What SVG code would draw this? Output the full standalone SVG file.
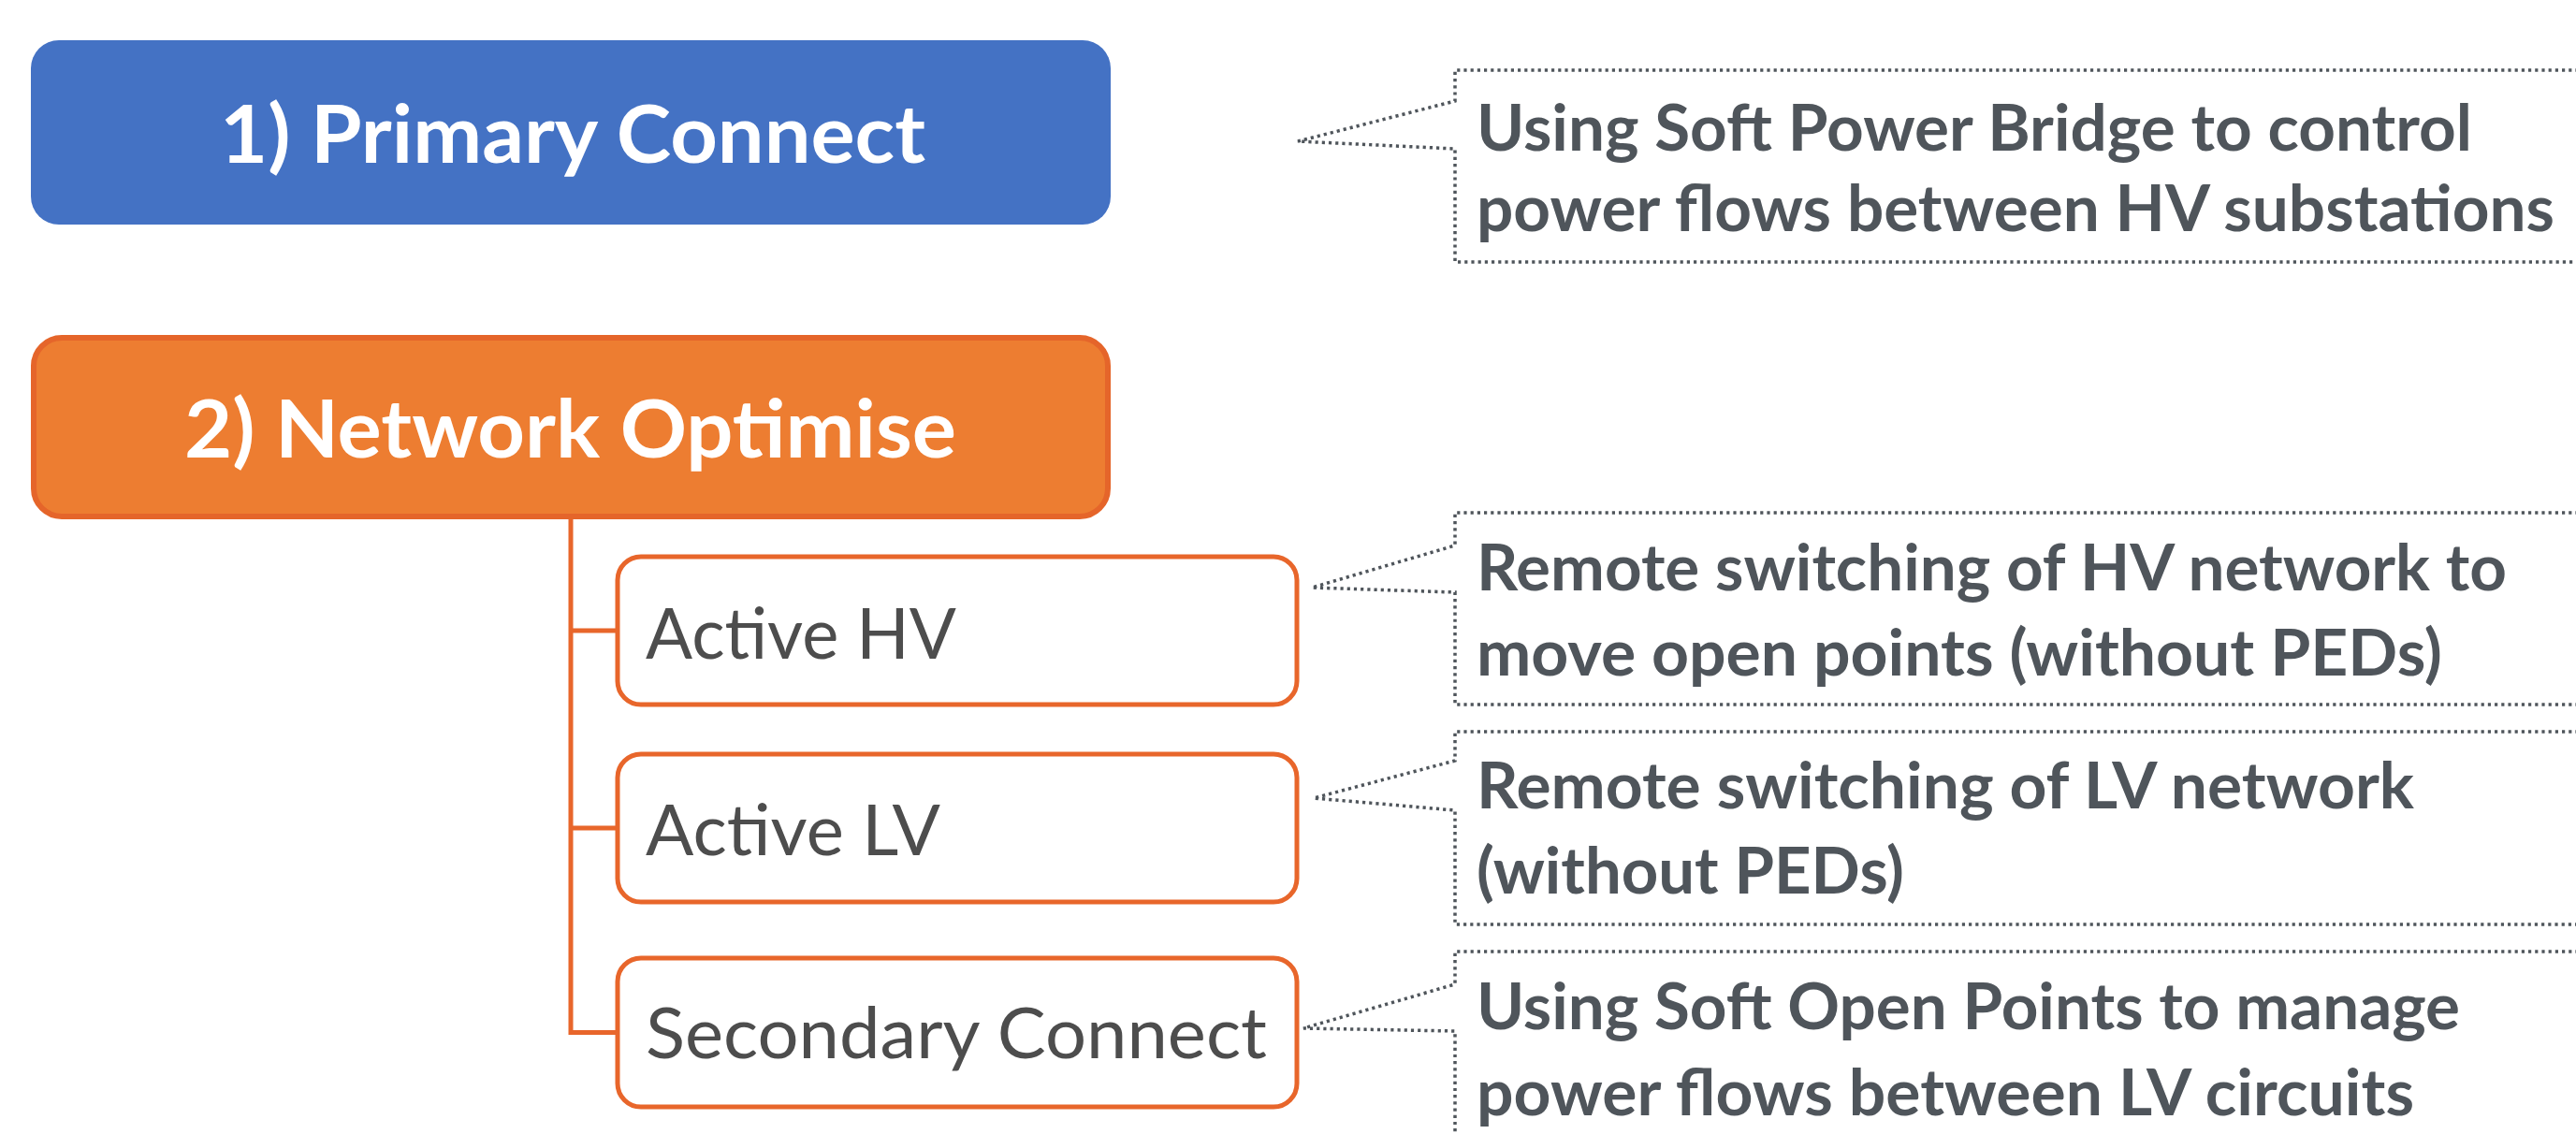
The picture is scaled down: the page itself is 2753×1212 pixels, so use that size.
<svg xmlns="http://www.w3.org/2000/svg" width="2753" height="1212" viewBox="0 0 2753 1212">
  <style>
    .title { font-family: Lato, "Open Sans", "Liberation Sans", sans-serif; font-weight: 700; font-size: 86px; fill: #FFFFFF; }
    .child { font-family: Lato, "Open Sans", "Liberation Sans", sans-serif; font-weight: 400; font-size: 75px; fill: #4D4D4D; }
    .note { font-family: Lato, "Open Sans", "Liberation Sans", sans-serif; font-weight: 700; font-size: 69px; fill: #4F555B; }
    .childbox { fill: #FFFFFF; stroke: #E8662B; stroke-width: 5; }
    .callout { fill: none; stroke: #4F555B; stroke-width: 3.5; stroke-dasharray: 3.2 4; }
    .conn { fill: none; stroke: #E8662B; stroke-width: 5; stroke-linejoin: miter; }
  </style>

  <g id="connectors">
    <path class="conn" d="M610,555 V1103.5 H660 M610,674 H660 M610,885 H660"/>
  </g>

  <g id="primary-connect">
    <rect x="33" y="43" width="1154" height="197" rx="30" ry="30" fill="#4472C4"/>
    <text class="title" x="235" y="174" textLength="754" lengthAdjust="spacingAndGlyphs">1) Primary Connect</text>
  </g>

  <g id="network-optimise">
    <rect x="36" y="361" width="1148" height="191" rx="30" ry="30" fill="#ED7D31" stroke="#E5652A" stroke-width="6"/>
    <text class="title" x="197" y="489" textLength="825" lengthAdjust="spacingAndGlyphs">2) Network Optimise</text>
  </g>

  <g id="active-hv">
    <rect class="childbox" x="660" y="595" width="726" height="158" rx="25" ry="25"/>
    <text class="child" x="690" y="704" textLength="332" lengthAdjust="spacingAndGlyphs">Active HV</text>
  </g>

  <g id="active-lv">
    <rect class="childbox" x="660" y="806" width="726" height="158" rx="25" ry="25"/>
    <text class="child" x="690" y="914" textLength="315" lengthAdjust="spacingAndGlyphs">Active LV</text>
  </g>

  <g id="secondary-connect">
    <rect class="childbox" x="660" y="1024" width="726" height="159" rx="25" ry="25"/>
    <text class="child" x="690" y="1131" textLength="664" lengthAdjust="spacingAndGlyphs">Secondary Connect</text>
  </g>

  <g id="callout-primary">
    <path class="callout" d="M2770,75 H1555 V108 L1387,151 L1555,159 V280 H2770"/>
    <text class="note" x="1578" y="161" textLength="1064" lengthAdjust="spacingAndGlyphs">Using Soft Power Bridge to control</text>
    <text class="note" x="1578" y="247" textLength="1152" lengthAdjust="spacingAndGlyphs">power flows between HV substations</text>
  </g>

  <g id="callout-active-hv">
    <path class="callout" d="M2770,548 H1555 V583 L1402,628 L1555,633 V753 H2770"/>
    <text class="note" x="1578" y="631" textLength="1101" lengthAdjust="spacingAndGlyphs">Remote switching of HV network to</text>
    <text class="note" x="1578" y="722" textLength="1032" lengthAdjust="spacingAndGlyphs">move open points (without PEDs)</text>
  </g>

  <g id="callout-active-lv">
    <path class="callout" d="M2770,782 H1555 V813 L1404,853 L1555,866 V988 H2770"/>
    <text class="note" x="1578" y="864" textLength="1002" lengthAdjust="spacingAndGlyphs">Remote switching of LV network</text>
    <text class="note" x="1578" y="955" textLength="457" lengthAdjust="spacingAndGlyphs">(without PEDs)</text>
  </g>

  <g id="callout-secondary">
    <path class="callout" d="M2770,1017 H1555 V1052 L1393,1099 L1555,1102 V1260"/>
    <text class="note" x="1578" y="1100" textLength="1051" lengthAdjust="spacingAndGlyphs">Using Soft Open Points to manage</text>
    <text class="note" x="1578" y="1192" textLength="1002" lengthAdjust="spacingAndGlyphs">power flows between LV circuits</text>
  </g>
</svg>
